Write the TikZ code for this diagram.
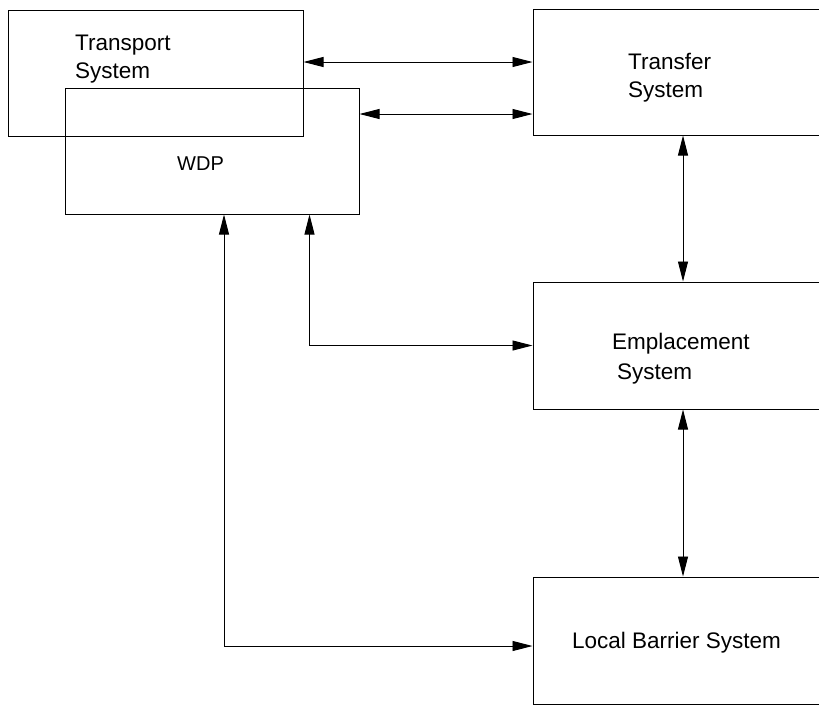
\documentclass[tikz,border=0pt]{standalone}
\usepackage{fontspec}
\setmainfont{Liberation Sans}
\usepackage{tikz}
\usetikzlibrary{arrows.meta,positioning}

\begin{document}
\begin{tikzpicture}[x=1pt, y=-1pt,
    box/.style={rectangle, draw, line width=1pt, inner sep=0pt, minimum height=126pt},
    lbl/.style={inner sep=0pt, align=left, font=\fontsize{22.5}{28}\selectfont},
    link/.style={{Triangle[length=20pt,width=10pt]}-{Triangle[length=20pt,width=10pt]}, line width=0.9pt}
]
\useasboundingbox (0,0) rectangle (819,705);
\clip (0,0) rectangle (819,705);

% Left boxes (overlapping)
\node[box, minimum width=295pt] (transport) at (155.5, 73) {};
\node[box, minimum width=294pt] (wdp) at (212, 151) {};

% Right column
\node[box, minimum width=300pt] (transfer) at (683, 72) {};
\node[box, minimum width=300pt, minimum height=127pt] (emplace) at (683, 345.5) {};
\node[box, minimum width=300pt, minimum height=127pt] (barrier) at (683, 640.5) {};

% Labels
\node[lbl, anchor=north west] (transportlbl) at (75, 35) {Transport\\System};
\node[lbl, anchor=west, font=\fontsize{20}{24}\selectfont] (wdplbl) at (177, 163.5) {WDP};
\node[lbl, anchor=north west] (transferlbl) at (628, 53) {Transfer\\System};
\node[lbl, anchor=north west] (emplacelbl) at (612, 333) {Emplacement\\[2pt]\hspace*{5pt}System};
\node[lbl, anchor=north west] (barrierlbl) at (572, 632) {Local Barrier System};

% Horizontal links at the top
\draw[link] ([yshift=11pt]transport.east) -- ([yshift=11pt]transport.east -| transfer.west);
\draw[link] ([yshift=37pt]wdp.east) -- ([yshift=37pt]wdp.east -| transfer.west);

% Right column links
\draw[link] (transfer.south) -- (emplace.north);
\draw[link] (emplace.south) -- (barrier.north);

% WDP down to the right column
\draw[link] ([xshift=-50pt]wdp.south east) |- (emplace.west);
\draw[link] ([xshift=12pt]wdp.south) |- ([yshift=-5.5pt]barrier.west);

\end{tikzpicture}
\end{document}
